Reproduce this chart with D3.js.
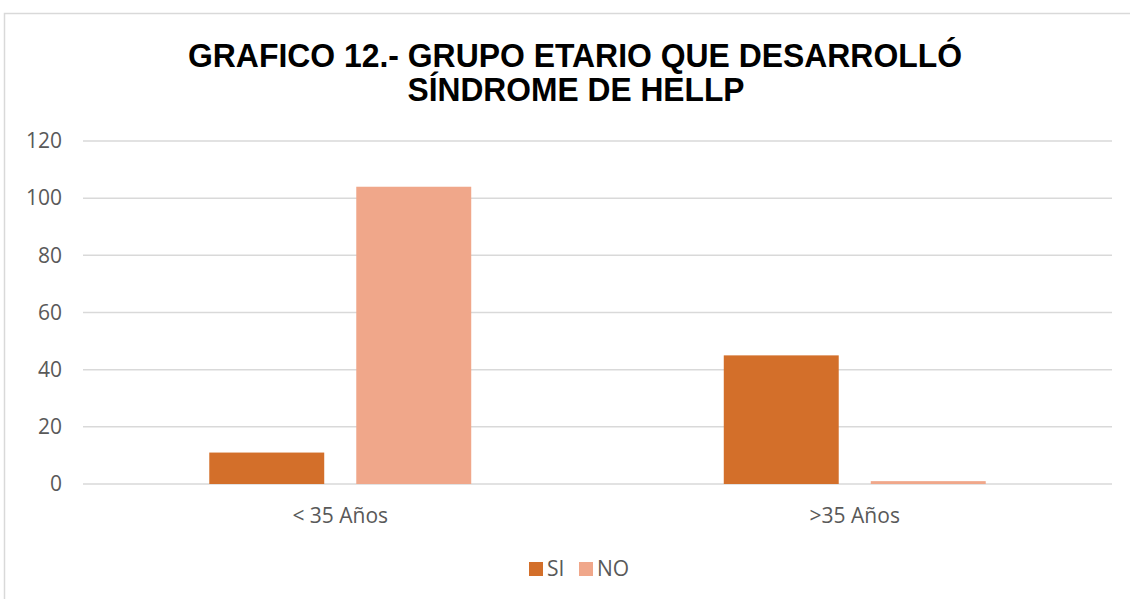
<!DOCTYPE html>
<html>
<head>
<meta charset="utf-8">
<script src="https://cdn.jsdelivr.net/npm/d3@7"></script>
<style>
  body { margin: 0; background: #fff; }
  svg { display: block; }
</style>
</head>
<body>
<svg id="chart" width="1130" height="599"></svg>
<script>
// data
let categories = ["< 35 Años", ">35 Años"];
let series = ["SI", "NO"];
let si_values = [11, 45];
let no_values = [104, 1];
let y_ticks = [0, 20, 40, 60, 80, 100, 120];
let title_lines = ["GRAFICO 12.- GRUPO ETARIO QUE DESARROLLÓ", "SÍNDROME DE HELLP"];

let colors = { SI: "#d36f2a", NO: "#f0a78a" };

let chart = d3.select("#chart");

// outer frame
chart.append("rect")
    .attr("x", 4.5)
    .attr("y", 13.5)
    .attr("width", 1140)
    .attr("height", 600)
    .attr("fill", "#fff")
    .attr("stroke", "#d9d9d9")
    .attr("stroke-width", 1.5);

// Chart Title
chart.append("text")
    .text(title_lines[0])
    .attr("x", 575)
    .attr("y", 67)
    .attr("text-anchor", "middle")
    .attr("font-family", "Liberation Sans, Arial, sans-serif")
    .attr("font-weight", 700)
    .attr("font-size", "33px")
    .attr("textLength", 774)
    .attr("lengthAdjust", "spacingAndGlyphs");
chart.append("text")
    .text(title_lines[1])
    .attr("x", 576)
    .attr("y", 101)
    .attr("text-anchor", "middle")
    .attr("font-family", "Liberation Sans, Arial, sans-serif")
    .attr("font-weight", 700)
    .attr("font-size", "33px")
    .attr("textLength", 337)
    .attr("lengthAdjust", "spacingAndGlyphs");

// scales
let x = d3.scaleBand()
    .domain(categories)
    .range([83, 1112]);

let x_inner = d3.scaleBand()
    .domain(series)
    .range([0, x.bandwidth()])
    .paddingInner(0.218)
    .paddingOuter(0.859);

let y = d3.scaleLinear()
    .domain([0, 120])
    .range([484, 141]);

// gridlines
chart.append("g")
    .selectAll("line")
    .data(y_ticks)
    .join("line")
    .attr("x1", 83)
    .attr("x2", 1112)
    .attr("y1", d => y(d))
    .attr("y2", d => y(d))
    .attr("stroke", "#d9d9d9")
    .attr("stroke-width", 1.5);

// y axis
let yAxis = d3.axisLeft(y)
    .tickValues(y_ticks)
    .tickSize(0)
    .tickPadding(0);
let yAxisGroup = chart.append("g")
    .attr("transform", "translate(62, 0)")
    .call(yAxis);
yAxisGroup.select(".domain").remove();
yAxisGroup.selectAll("text")
    .attr("fill", "#595959")
    .attr("font-family", "Open Sans, sans-serif")
    .attr("font-size", "21px");

// x axis
let xAxis = d3.axisBottom(x)
    .tickSize(0)
    .tickPadding(0);
let xAxisGroup = chart.append("g")
    .attr("transform", "translate(0, 508)")
    .call(xAxis);
xAxisGroup.select(".domain").remove();
xAxisGroup.selectAll("text")
    .attr("fill", "#595959")
    .attr("font-family", "Open Sans, sans-serif")
    .attr("font-size", "21px");

// bars
let rows = categories.map((c, i) => ({ cat: c, SI: si_values[i], NO: no_values[i] }));

chart.append("g")
    .selectAll("g")
    .data(rows)
    .join("g")
    .attr("transform", d => "translate(" + x(d.cat) + ",0)")
    .selectAll("rect")
    .data(d => series.map(s => ({ key: s, value: d[s] })))
    .join("rect")
    .attr("x", d => x_inner(d.key))
    .attr("width", x_inner.bandwidth())
    .attr("y", d => y(d.value))
    .attr("height", d => y(0) - y(d.value))
    .attr("fill", d => colors[d.key]);

// LEGEND
let legend = chart.append("g")
    .attr("transform", "translate(529, 569)");
let legend_x = [0, 50];
series.forEach((s, i) => {
    legend.append("rect")
        .attr("x", legend_x[i])
        .attr("y", -7)
        .attr("width", 14)
        .attr("height", 14)
        .attr("fill", colors[s]);
    legend.append("text")
        .text(s)
        .attr("x", legend_x[i] + 18)
        .attr("y", 0)
        .attr("dy", "0.35em")
        .attr("fill", "#595959")
        .attr("font-family", "Open Sans, sans-serif")
        .attr("font-size", "21px");
});
</script>
</body>
</html>
